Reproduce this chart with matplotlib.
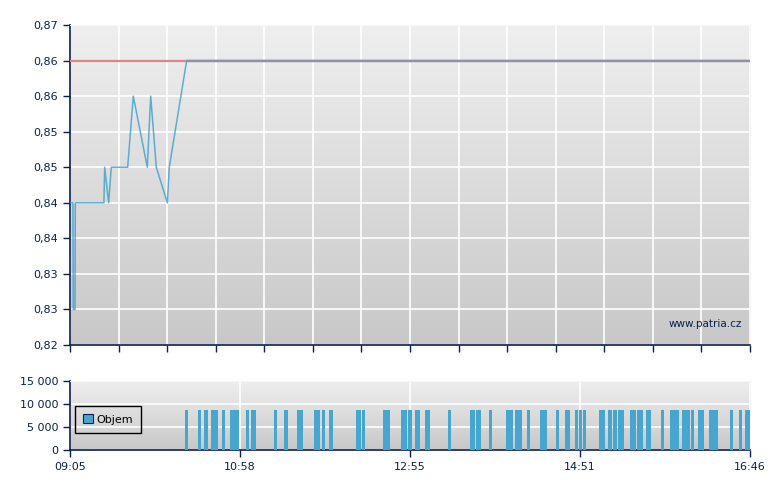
import numpy as np
import matplotlib.pyplot as plt
from matplotlib.colors import LinearSegmentedColormap
from matplotlib.patches import Patch

# price series: minutes after 09:05 and price
price_t = [0, 2.0, 2.2, 3.4, 3.6, 23.0, 23.5, 26.2, 28.0, 39.1, 42.9, 52.4,
           54.7, 58.5, 66.0, 67.3, 79.1, 461]
price_v = [0.840, 0.840, 0.825, 0.825, 0.840, 0.840, 0.845, 0.840, 0.845,
           0.845, 0.855, 0.845, 0.855, 0.845, 0.840, 0.845, 0.860, 0.860]
prev_close = 0.860

price_ticks = [0.820, 0.825, 0.830, 0.835, 0.840, 0.845, 0.850, 0.855, 0.860, 0.865]
price_labels = ['0,82', '0,83', '0,83', '0,84', '0,84', '0,85', '0,85', '0,86', '0,86', '0,87']

# volume bars: start (minutes after 09:05), length (minutes), volume
bar_start = [78.0, 86.8, 90.9, 95.6, 103.1, 108.5, 119.3, 122.7, 138.3, 145.1,
             153.9, 165.4, 170.9, 175.6, 193.9, 198.0, 212.2, 224.4, 229.2, 233.9,
             240.7, 256.3, 271.2, 275.3, 284.1, 295.6, 301.7, 309.8, 318.7, 329.5,
             335.6, 342.4, 345.1, 347.8, 358.7, 364.8, 368.2, 371.5, 379.7, 384.4,
             390.5, 400.7, 406.8, 414.9, 421.0, 425.8, 433.2, 447.5, 453.6, 457.7]
bar_len = [2.0, 2.0, 2.7, 4.7, 2.0, 6.1, 2.1, 3.4, 2.0, 2.7,
           4.1, 4.1, 2.0, 2.7, 3.4, 2.0, 4.8, 4.1, 2.7, 3.4,
           3.4, 2.0, 3.4, 3.4, 2.0, 4.8, 4.8, 2.1, 4.7, 2.0,
           3.4, 2.0, 2.0, 2.0, 4.0, 2.7, 2.7, 4.1, 4.0, 4.1,
           3.4, 2.0, 6.1, 5.5, 2.1, 4.1, 6.1, 2.0, 2.0, 3.3]
volumes = [8700, 8700, 8700, 8700, 8700, 8700, 8700, 8700, 8700, 8700,
           8700, 8700, 8700, 8700, 8700, 8700, 8700, 8700, 8700, 8700,
           8700, 8700, 8700, 8700, 8700, 8700, 8700, 8700, 8700, 8700,
           8700, 8700, 8700, 8700, 8700, 8700, 8700, 8700, 8700, 8700,
           8700, 8700, 8700, 8700, 8700, 8700, 8700, 8700, 8700, 8700]

time_labels = ['09:05', '10:58', '12:55', '14:51', '16:46']
vol_ticks = [0, 5000, 10000, 15000]
vol_labels = ['0', '5 000', '10 000', '15 000']

navy = '#0b1f4f'
blue = '#47a6d0'
t_end = 461

fig = plt.figure(figsize=(7.8, 4.9), dpi=100)
ax0 = fig.add_axes([70/780, 145/490, 680/780, 320/490])
ax1 = fig.add_axes([70/780, 40/490, 680/780, 69/490])

bg = LinearSegmentedColormap.from_list('bg', ['#efefef', '#c8c8c8'])
grad = np.linspace(0, 1, 256).reshape(-1, 1)
for ax in (ax0, ax1):
    ax.imshow(grad, extent=[0, 1, 0, 1], transform=ax.transAxes, aspect='auto',
              cmap=bg, zorder=0)
    ax.set_axisbelow(True)
    ax.grid(True, color='white', lw=1.2)
    for s in ('top', 'right'):
        ax.spines[s].set_color('#f6f6f6')
    for s in ('left', 'bottom'):
        ax.spines[s].set_color(navy)
        ax.spines[s].set_linewidth(1.2)
    ax.tick_params(colors=navy, labelcolor=navy, labelsize=8, length=5, width=1)
    ax.set_xlim(0, t_end)

# price panel
ax0.plot([0, t_end], [prev_close, prev_close], color='#e08585', lw=1.6, zorder=3)
ax0.plot(price_t, price_v, color='#3a9fcf', lw=1.1, alpha=0.8, zorder=4)
ax0.plot(price_t[-2:], price_v[-2:], color='#8a93ad', lw=1.6, zorder=4)
ax0.set_ylim(price_ticks[0], price_ticks[-1])
ax0.set_yticks(price_ticks)
ax0.set_yticklabels(price_labels)
ax0.set_xticks(np.linspace(0, t_end, 15))
ax0.set_xticklabels([])
ax0.text(0.988, 0.065, 'www.patria.cz', transform=ax0.transAxes, ha='right',
         va='center', color=navy, fontsize=7.5)

# volume panel
ax1.bar(bar_start, volumes, width=bar_len, align='edge', color=blue,
        linewidth=0, antialiased=False, zorder=3)
ax1.set_ylim(0, 15000)
ax1.set_yticks(vol_ticks)
ax1.set_yticklabels(vol_labels)
ax1.set_xticks(np.linspace(0, t_end, 5))
ax1.set_xticklabels(time_labels)
leg = ax1.legend(handles=[Patch(facecolor=blue, edgecolor=navy, lw=0.8, label='Objem')],
                 loc='lower left', bbox_to_anchor=(0.007, 0.246), borderaxespad=0,
                 fancybox=False, fontsize=8, handlelength=0.9, handleheight=0.9,
                 handletextpad=0.3, borderpad=0.75, facecolor='none',
                 edgecolor='black', framealpha=1)
leg.get_frame().set_linewidth(1)

fig.savefig('out.png', dpi=100)
